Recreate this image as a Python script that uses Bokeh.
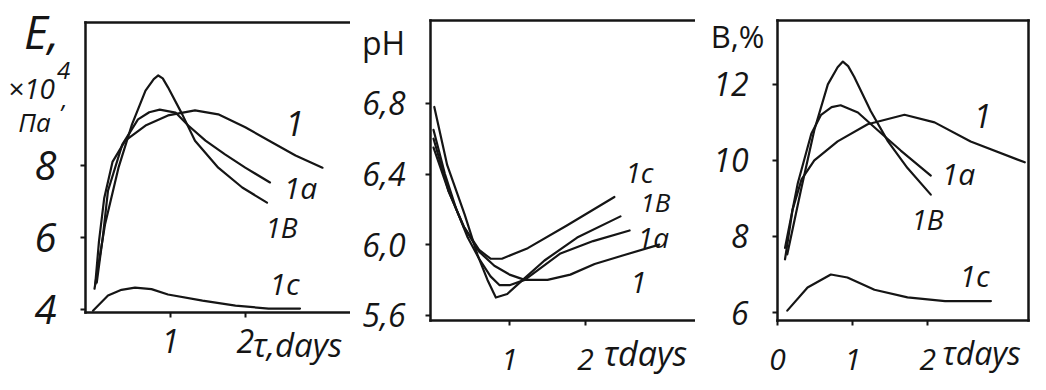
from bokeh.plotting import figure
from bokeh.layouts import row
from bokeh.models import Range1d, FixedTicker, Label, CustomJSTickFormatter, LinearAxis
from bokeh.embed import file_html
from bokeh.resources import INLINE

# ---------------- data ----------------
# Panel 1: E, x10^4 Pa vs time (days)
e1_x = [0.0, 0.05, 0.12, 0.23, 0.4, 0.67, 0.97, 1.33, 1.64, 2.0, 2.36, 2.67, 3.03]
e1_y = [4.7, 5.9, 7.1, 8.1, 8.69, 9.11, 9.39, 9.53, 9.42, 9.06, 8.64, 8.28, 7.94]
e1a_x = [0.02, 0.1, 0.17, 0.36, 0.57, 0.72, 0.86, 1.07, 1.24, 1.47, 1.73, 2.0, 2.33]
e1a_y = [4.75, 6.0, 7.3, 8.58, 9.28, 9.48, 9.55, 9.47, 9.11, 8.69, 8.31, 7.94, 7.53]
e1b_x = [-0.01, 0.13, 0.31, 0.49, 0.67, 0.78, 0.84, 0.9, 0.97, 1.16, 1.33, 1.64, 1.96, 2.29]
e1b_y = [4.58, 6.36, 7.94, 9.14, 10.08, 10.4, 10.5, 10.42, 10.17, 9.42, 8.69, 7.94, 7.39, 6.97]
e1c_x = [-0.03, 0.17, 0.35, 0.53, 0.75, 0.97, 1.43, 1.87, 2.31, 2.73]
e1c_y = [3.97, 4.39, 4.55, 4.61, 4.57, 4.42, 4.25, 4.11, 4.03, 4.03]

# Panel 2: pH vs time (days)
ph1_x = [0.0, 0.2, 0.4, 0.6, 0.8, 1.0, 1.2, 1.5, 1.8, 2.12, 2.5, 2.97]
ph1_y = [6.55, 6.3, 6.1, 5.96, 5.88, 5.83, 5.80, 5.80, 5.83, 5.89, 5.94, 6.0]
ph1a_x = [0.0, 0.15, 0.3, 0.45, 0.6, 0.75, 0.87, 1.0, 1.2, 1.67, 2.1, 2.58]
ph1a_y = [6.65, 6.4, 6.2, 6.04, 5.92, 5.82, 5.77, 5.77, 5.80, 5.95, 6.02, 6.08]
ph1b_x = [0.01, 0.18, 0.41, 0.58, 0.71, 0.82, 0.97, 1.2, 1.46, 1.89, 2.46]
ph1b_y = [6.78, 6.45, 6.17, 5.94, 5.80, 5.70, 5.72, 5.81, 5.91, 6.04, 6.16]
ph1c_x = [0.0, 0.2, 0.4, 0.6, 0.75, 0.9, 1.24, 1.76, 2.38]
ph1c_y = [6.6, 6.3, 6.1, 5.97, 5.92, 5.92, 5.98, 6.11, 6.27]

# Panel 3: B, % vs time (days)
b1_x = [0.1, 0.2, 0.32, 0.49, 0.8, 1.2, 1.69, 2.09, 2.57, 3.29]
b1_y = [7.4, 8.7, 9.5, 10.0, 10.5, 10.95, 11.2, 11.0, 10.5, 9.95]
b1a_x = [0.1, 0.27, 0.45, 0.58, 0.72, 0.84, 1.07, 1.33, 1.64, 2.04]
b1a_y = [7.7, 9.4, 10.7, 11.2, 11.4, 11.45, 11.26, 10.8, 10.26, 9.6]
b1b_x = [0.13, 0.31, 0.49, 0.67, 0.8, 0.87, 0.94, 1.02, 1.24, 1.47, 1.73, 2.04]
b1b_y = [7.53, 9.2, 10.8, 12.0, 12.45, 12.6, 12.48, 12.2, 11.3, 10.5, 9.8, 9.1]
b1c_x = [0.13, 0.4, 0.71, 0.93, 1.29, 1.73, 2.23, 2.84]
b1c_y = [6.05, 6.66, 7.0, 6.92, 6.6, 6.4, 6.3, 6.3]

# axis limits and ticks
e_xlim, e_ylim = (-0.13, 3.43), (3.92, 11.97)
ph_xlim, ph_ylim = (-0.04, 3.5), (5.57, 7.27)
b_xlim, b_ylim = (0.0, 3.34), (5.79, 13.68)
e_ticks = [4, 6, 8]
ph_ticks = [5.6, 6.0, 6.4, 6.8]
b_ticks = [6, 8, 10, 12]

FONT = "Open Sans"
INK = "#151515"
H = 378
O = 3          # observed page origin of the layout
W1, W2, W3 = 350, 345, 336
BOX1 = (88, 25, 355, 315)
BOX2 = (433, 23, 702, 323)
BOX3 = (780, 23, 1031, 323)


def make_panel(width, ox, box, xlim, ylim, xticks, yticks, ysize, xsize, ystand, xstand):
    L, T, R, B = box
    l, t, r, b = L - ox, T - O, R - ox, B - O
    kx = (r - l) / (xlim[1] - xlim[0])
    ky = (b - t) / (ylim[1] - ylim[0])
    xr = Range1d(xlim[0] - l / kx, xlim[0] + (width - l) / kx)
    yr = Range1d(ylim[0] - (H - b) / ky, ylim[1] + t / ky)
    p = figure(width=width, height=H, x_range=xr, y_range=yr,
               output_backend="svg", toolbar_location=None, min_border=0)
    p.min_border_left = p.min_border_right = p.min_border_top = p.min_border_bottom = 0
    p.grid.visible = False
    p.outline_line_color = None
    p.background_fill_color = "white"
    p.border_fill_color = "white"

    yax, xax = p.yaxis[0], p.xaxis[0]
    yax.fixed_location = xlim[0]
    yax.bounds = ylim
    xax.fixed_location = ylim[0]
    xax.bounds = xlim
    yax.ticker = FixedTicker(ticks=yticks)
    xax.ticker = FixedTicker(ticks=xticks)
    yax.major_label_text_font_size = ysize
    xax.major_label_text_font_size = xsize
    yax.major_label_standoff = ystand
    xax.major_label_standoff = xstand

    right = LinearAxis(fixed_location=xlim[1], bounds=ylim, ticker=FixedTicker(ticks=[]))
    top = LinearAxis(fixed_location=ylim[1], bounds=xlim, ticker=FixedTicker(ticks=[]))
    p.add_layout(right, "right")
    p.add_layout(top, "above")
    for ax in (xax, yax, right, top):
        ax.axis_line_color = INK
        ax.axis_line_width = 2.5
        ax.axis_line_cap = "square"
        ax.major_tick_line_color = INK
        ax.major_tick_line_width = 2
        ax.major_tick_out = 5
        ax.major_tick_in = 0
        ax.minor_tick_line_color = None
        ax.major_label_text_font = FONT
        ax.major_label_text_font_style = "italic"
        ax.major_label_text_color = INK
    for ax in (right, top):
        ax.major_label_text_font_size = "0px"
        ax.major_tick_line_color = None
    return p


p1 = make_panel(W1, O, BOX1, e_xlim, e_ylim, [1, 2], e_ticks, "40px", "32px", 24, 11)
p2 = make_panel(W2, O + W1, BOX2, ph_xlim, ph_ylim, [1, 2], ph_ticks, "32px", "30px", 20, 23)
p3 = make_panel(W3, O + W1 + W2, BOX3, b_xlim, b_ylim, [0, 1, 2], b_ticks, "32px", "30px", 24, 23)
p2.yaxis[0].formatter = CustomJSTickFormatter(code="return tick.toFixed(1).replace('.', ',');")

boxes = {
    id(p1): (BOX1, e_xlim, e_ylim),
    id(p2): (BOX2, ph_xlim, ph_ylim),
    id(p3): (BOX3, b_xlim, b_ylim),
}


def lab(p, px, py, text, size, style="italic"):
    (L, T, R, B), xlim, ylim = boxes[id(p)]
    py = py + 1
    x = xlim[0] + (px - L) / (R - L) * (xlim[1] - xlim[0])
    y = ylim[1] - (py - T) / (B - T) * (ylim[1] - ylim[0])
    p.add_layout(Label(x=x, y=y, text=text, text_font=FONT, text_font_style=style,
                       text_font_size=size, text_color=INK,
                       text_align="center", text_baseline="middle"))


LW = 2.2
for p, series in (
    (p1, [(e1_x, e1_y), (e1a_x, e1a_y), (e1b_x, e1b_y), (e1c_x, e1c_y)]),
    (p2, [(ph1_x, ph1_y), (ph1a_x, ph1a_y), (ph1b_x, ph1b_y), (ph1c_x, ph1c_y)]),
    (p3, [(b1_x, b1_y), (b1a_x, b1a_y), (b1b_x, b1b_y), (b1c_x, b1c_y)]),
):
    for xs, ys in series:
        p.line(xs, ys, line_color=INK, line_width=LW, line_join="round", line_cap="round")

# Panel 1 texts
lab(p1, 44, 32, "E,", "46px")
lab(p1, 34, 89, "×10", "28px")
lab(p1, 66, 72, "4", "24px")
lab(p1, 67, 101, ",", "24px")
lab(p1, 37, 123, "Па", "26px")
lab(p1, 297, 125, "1", "34px")
lab(p1, 303, 189, "1a", "30px")
lab(p1, 284, 228, "1B", "28px")
lab(p1, 287, 285, "1c", "30px")
lab(p1, 300, 346, "τ,days", "33px")

# Panel 2 texts
lab(p2, 386, 44, "pH", "32px", "normal")
lab(p2, 642, 173, "1c", "28px")
lab(p2, 658, 203, "1B", "26px")
lab(p2, 656, 238, "1a", "28px")
lab(p2, 641, 284, "1", "30px")
lab(p2, 648, 354, "τdays", "34px")

# Panel 3 texts
lab(p3, 740, 37, "B,%", "31px", "normal")
lab(p3, 985, 117, "1", "32px")
lab(p3, 961, 175, "1a", "30px")
lab(p3, 930, 220, "1B", "28px")
lab(p3, 977, 277, "1c", "30px")
lab(p3, 984, 354, "τdays", "32px")

layout = row(p1, p2, p3)
open("out.html", "w").write(file_html(layout, INLINE))
